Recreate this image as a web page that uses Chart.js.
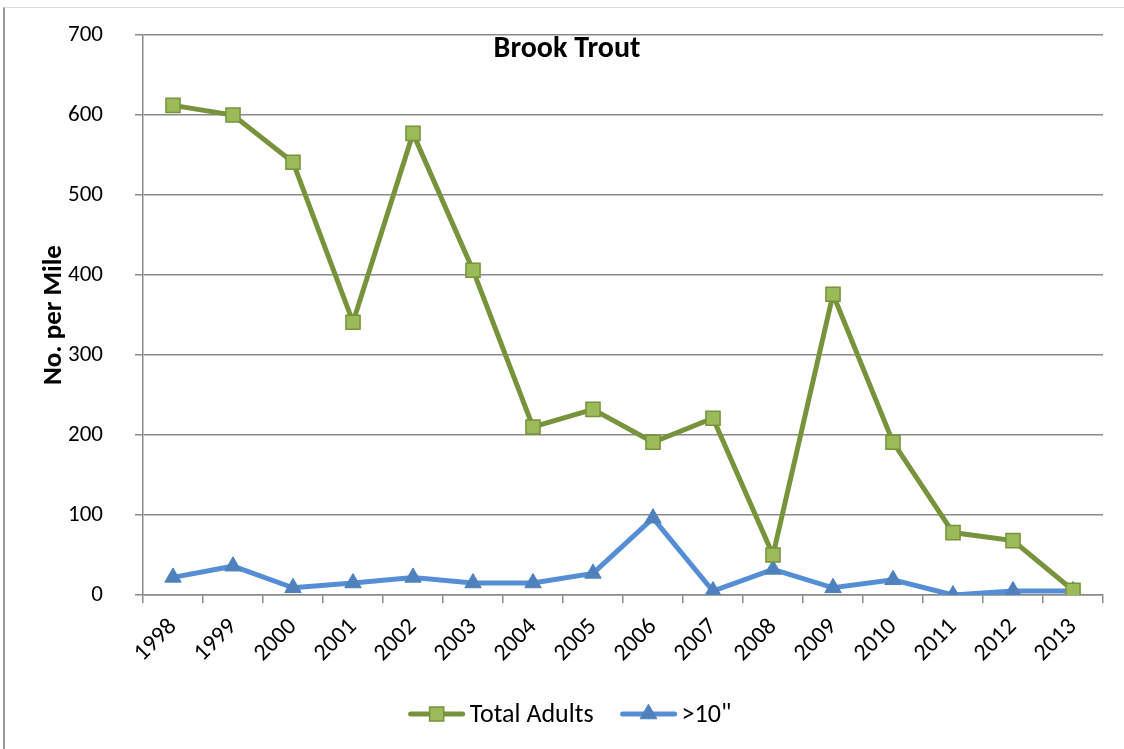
<!DOCTYPE html>
<html lang="en">
  <head>
    <meta charset="UTF-8" />
    <script src="https://cdn.jsdelivr.net/npm/chart.js"></script>
    <title>Brook Trout</title>
    <style>
      html, body { margin: 0; padding: 0; background: #fff; overflow: hidden; }
      .frame {
        position: absolute; left: 3px; top: 7px; width: 1200px; height: 800px;
        border-left: 2px solid #9a9a9a; border-top: 1px solid #dcdcdc;
      }
      .wrap { position: absolute; left: 0; top: 0; width: 1124px; height: 749px; }
    </style>
  </head>
  <body>
    <div class="frame"></div>
    <div class="wrap"><canvas id="myChart"></canvas></div>
    <script>
      // chart data
      const years = ['1998', '1999', '2000', '2001', '2002', '2003', '2004', '2005',
                     '2006', '2007', '2008', '2009', '2010', '2011', '2012', '2013'];
      const totalAdults = [612, 600, 541, 341, 577, 406, 210, 232, 191, 221, 50, 376, 191, 78, 68, 6];
      const over10 = [22, 36, 9, 15, 22, 15, 15, 27, 96, 5, 32, 9, 19, 0, 5, 5];
      const yTicks = [0, 100, 200, 300, 400, 500, 600, 700];

      const FONT = "Carlito, Lato, 'Liberation Sans', sans-serif";
      const gridColor = '#8a8a8a';

      // title drawn inside the plot area, like the original
      const titlePlugin = {
        id: 'innerTitle',
        afterDraw(chart) {
          const ctx = chart.ctx;
          ctx.save();
          ctx.font = "bold 30px " + FONT;
          ctx.fillStyle = '#000';
          ctx.textAlign = 'center';
          ctx.textBaseline = 'alphabetic';
          ctx.fillText('Brook Trout', 567, 57);
          ctx.restore();
        }
      };

      // legend with a line segment and marker per series
      const lineLegend = {
        id: 'lineLegend',
        afterDraw(chart) {
          const ctx = chart.ctx;
          const sets = chart.data.datasets;
          const segW = 56, gapText = 5, gapItem = 27;
          ctx.save();
          ctx.font = "26px " + FONT;
          let total = 0;
          sets.forEach((ds, i) => {
            total += segW + gapText + ctx.measureText(ds.label).width;
            if (i < sets.length - 1) total += gapItem;
          });
          let x = 570 - total / 2;
          const y = 714;
          sets.forEach((ds) => {
            ctx.strokeStyle = ds.borderColor;
            ctx.lineWidth = ds.borderWidth;
            ctx.lineCap = 'round';
            ctx.beginPath();
            ctx.moveTo(x + 2, y);
            ctx.lineTo(x + segW - 2, y);
            ctx.stroke();
            ctx.fillStyle = ds.pointBackgroundColor;
            ctx.strokeStyle = ds.pointBorderColor;
            ctx.lineWidth = ds.pointBorderWidth;
            Chart.helpers.drawPoint(ctx, {
              pointStyle: ds.pointStyle,
              radius: ds.pointRadius,
              borderWidth: ds.pointBorderWidth
            }, x + segW / 2, y);
            x += segW + gapText;
            ctx.fillStyle = '#000';
            ctx.textAlign = 'left';
            ctx.textBaseline = 'middle';
            ctx.fillText(ds.label, x, y + 1);
            x += ctx.measureText(ds.label).width + gapItem;
          });
          ctx.restore();
        }
      };

      const ctx = document.getElementById('myChart').getContext('2d');
      new Chart(ctx, {
        type: 'line',
        data: {
          labels: years,
          datasets: [{
            label: 'Total Adults',
            data: totalAdults,
            borderColor: '#77933C',
            borderWidth: 5,
            pointStyle: 'rect',
            pointRadius: 10,
            pointBackgroundColor: '#9BBB59',
            pointBorderColor: '#77933C',
            pointBorderWidth: 1.5,
            tension: 0
          }, {
            label: '>10"',
            data: over10,
            borderColor: '#558ED5',
            borderWidth: 5,
            pointStyle: 'triangle',
            pointRadius: 9.5,
            pointBackgroundColor: '#4F81BD',
            pointBorderColor: '#4F81BD',
            pointBorderWidth: 1,
            tension: 0
          }]
        },
        options: {
          responsive: true,
          maintainAspectRatio: false,
          animation: false,
          layout: { padding: { left: 0, right: 21, top: 35, bottom: 0 } },
          plugins: {
            legend: { display: false },
            title: { display: false },
            tooltip: { enabled: false }
          },
          scales: {
            x: {
              offset: true,
              grid: {
                offset: true,
                drawOnChartArea: false,
                color: gridColor,
                lineWidth: 1.5,
                tickLength: 8
              },
              border: { color: gridColor, width: 1.5 },
              ticks: {
                minRotation: 45,
                maxRotation: 45,
                color: '#000',
                padding: 10,
                font: { family: FONT, size: 24 }
              },
              afterFit(scale) { scale.height = 154; }
            },
            y: {
              min: 0,
              max: 700,
              afterBuildTicks(scale) { scale.ticks = yTicks.map(v => ({ value: v })); },
              grid: {
                color: gridColor,
                lineWidth: 1.5,
                tickLength: 8
              },
              border: { color: gridColor, width: 1.5 },
              ticks: {
                color: '#000',
                padding: 32,
                font: { family: FONT, size: 23 }
              },
              title: {
                display: true,
                text: 'No. per Mile',
                color: '#000',
                font: { family: FONT, size: 27, weight: 'bold' },
                padding: { top: 38, bottom: 0 }
              },
              afterFit(scale) {
                scale.width = 143;
                scale.paddingTop = 0;
                scale.paddingBottom = 0;
              }
            }
          }
        },
        plugins: [titlePlugin, lineLegend]
      });
    </script>
  </body>
</html>
